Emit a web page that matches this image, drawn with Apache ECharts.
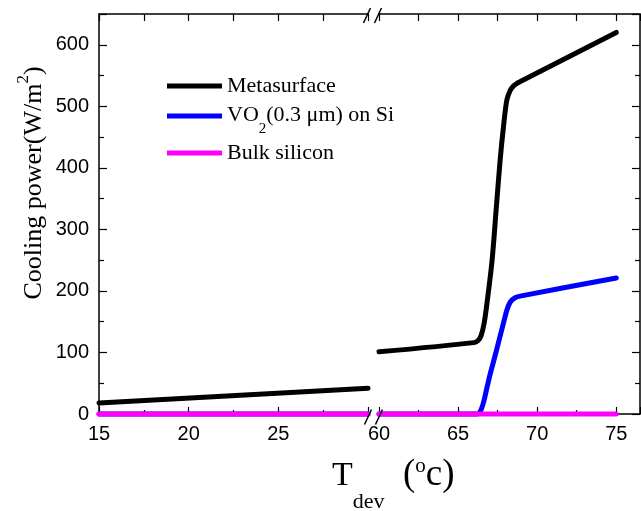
<!DOCTYPE html>
<html><head><meta charset="utf-8">
<script src="https://cdn.jsdelivr.net/npm/echarts@6/dist/echarts.min.js"></script>
<style>html,body{margin:0;padding:0;background:#fff}#c{width:641px;height:511px}</style>
</head><body><div id="c"></div>
<script>
// ---- data ----
const leftRange = [15, 30];
const rightRange = [60, 76.5];
const yRange = [0, 650];
const xTickLabelsLeft = [15, 20, 25];
const xTickLabelsRight = [60, 65, 70, 75];
const yTickLabels = [0, 100, 200, 300, 400, 500, 600];

const seriesNames = ['Metasurface', 'VO2(0.3 μm) on Si', 'Bulk silicon'];

const metaLeftT = [15, 30];
const metaLeftP = [18, 42];
const metaRightT = [60, 66, 66.25, 66.45, 66.65, 66.85, 67.15, 67.4, 67.66, 67.87, 68.08, 68.3, 68.5, 68.7, 69, 75];
const metaRightP = [101, 116, 119, 127, 148, 185, 250, 330, 413, 467, 510, 526, 533, 537, 541, 620];

const vo2LeftT = [15, 30];
const vo2LeftP = [0, 0];
const vo2RightT = [60, 66.2, 66.4, 66.6, 66.8, 67.0, 67.3, 67.6, 67.9, 68.1, 68.3, 68.6, 69, 75];
const vo2RightP = [0, 0, 4, 18, 40, 62, 91, 121, 151, 170, 182, 189, 192, 221];

const bulkLeftT = [15, 30];
const bulkLeftP = [0, 0];
const bulkRightT = [60, 75];
const bulkRightP = [0, 0];

// ---- layout ----
const G0 = {left: 99, top: 14, width: 269, height: 400};
const G1 = {left: 379, top: 14, width: 261, height: 400};
const serif = 'Liberation Serif';
const sans = 'Liberation Sans';
const colors = ['#000000', '#0000ff', '#ff00ff'];

const zip = (a, b) => a.map((v, i) => [v, b[i]]);

function xAxisBase(grid, range, pos, interval, labels) {
  return {
    type: 'value', gridIndex: grid, position: pos, min: range[0], max: range[1], interval: interval,
    axisLine: {show: true, lineStyle: {color: '#000', width: 1.5}},
    axisTick: {show: true, inside: true, length: 7, lineStyle: {color: '#000', width: 1.2}},
    minorTick: {show: pos === 'bottom', splitNumber: 2, length: 4, lineStyle: {color: '#000', width: 1.2}},
    splitLine: {show: false},
    axisLabel: labels ? {
      show: true, margin: 10, fontFamily: sans, fontSize: 20, color: '#000',
      showMaxLabel: false,
      formatter: v => labels.includes(v) ? String(v) : ''
    } : {show: false}
  };
}
function yAxisBase(grid, pos, labels) {
  return {
    type: 'value', gridIndex: grid, position: pos, min: yRange[0], max: yRange[1], interval: 100,
    axisLine: {show: true, lineStyle: {color: '#000', width: 1.5}},
    axisTick: {show: true, inside: true, length: 8, lineStyle: {color: '#000', width: 1.2}},
    minorTick: {show: true, splitNumber: 2, length: 5, lineStyle: {color: '#000', width: 1.2}},
    splitLine: {show: false},
    axisLabel: labels ? {
      show: true, margin: 10, fontFamily: sans, fontSize: 20, color: '#000',
      showMaxLabel: false,
      formatter: v => labels.includes(v) ? String(v) : ''
    } : {show: false}
  };
}

const yAxis0 = yAxisBase(0, 'left', yTickLabels);
yAxis0.name = '{a|Cooling power(W/m}{b|2}{a|)}';
yAxis0.nameLocation = 'middle';
yAxis0.nameGap = 54;
yAxis0.nameTextStyle = {
  fontFamily: serif, fontSize: 26, color: '#000', padding: [0, 0, 0, 62],
  rich: {
    a: {fontFamily: serif, fontSize: 26, color: '#000', lineHeight: 30, verticalAlign: 'top', padding: [6, 0, 0, 0]},
    b: {fontFamily: serif, fontSize: 17, color: '#000', lineHeight: 17, verticalAlign: 'top'}
  }
};

function line(name, xi, yi, data, color) {
  return {
    name: name, type: 'line', xAxisIndex: xi, yAxisIndex: yi, data: data,
    showSymbol: false, symbol: 'none', smooth: 0.3, clip: false,
    lineStyle: {color: color, width: 5, cap: 'round', join: 'round'},
    itemStyle: {color: color}, emphasis: {disabled: true}, animation: false
  };
}

function legendFor(name, top) {
  return {
    data: [name], left: 167, top: top, padding: 0, itemWidth: 55, itemHeight: 14,
    selectedMode: false, icon: 'path://M0,0 L55,0 L55,5 L0,5 Z',
    textStyle: {
      fontFamily: serif, fontSize: 22, color: '#000',
      rich: {
        n: {fontFamily: serif, fontSize: 22, color: '#000', lineHeight: 24, verticalAlign: 'top'},
        s: {fontFamily: serif, fontSize: 15, color: '#000', lineHeight: 15, verticalAlign: 'top', padding: [18, 0, 0, 0]}
      }
    },
    formatter: n => n === seriesNames[1] ? '{n|VO}{s|2}{n|(0.3 μm) on Si}' : n
  };
}

function slash(cx, cy) {
  return {type: 'line', silent: true, z: 100,
    shape: {x1: cx - 3.5, y1: cy + 7.5, x2: cx + 3.5, y2: cy - 7.5},
    style: {stroke: '#000', lineWidth: 1.5}};
}

const chart = echarts.init(document.getElementById('c'), null, {renderer: 'canvas'});
const yTop = G0.top, yBot = G0.top + G0.height;
chart.setOption({
  animation: false,
  backgroundColor: '#fff',
  grid: [
    Object.assign({containLabel: false}, G0),
    Object.assign({containLabel: false}, G1)
  ],
  xAxis: [
    xAxisBase(0, leftRange, 'bottom', 5, xTickLabelsLeft),
    xAxisBase(0, leftRange, 'top', 2.5, null),
    xAxisBase(1, rightRange, 'bottom', 5, xTickLabelsRight),
    xAxisBase(1, rightRange, 'top', 2.5, null)
  ],
  yAxis: [
    yAxis0,
    yAxisBase(1, 'right', null)
  ],
  legend: [
    legendFor(seriesNames[0], 75),
    legendFor(seriesNames[1], 104),
    legendFor(seriesNames[2], 142)
  ],
  series: [
    line(seriesNames[0], 0, 0, zip(metaLeftT, metaLeftP), colors[0]),
    line(seriesNames[0], 2, 1, zip(metaRightT, metaRightP), colors[0]),
    line(seriesNames[1], 0, 0, zip(vo2LeftT, vo2LeftP), colors[1]),
    line(seriesNames[1], 2, 1, zip(vo2RightT, vo2RightP), colors[1]),
    line(seriesNames[2], 0, 0, zip(bulkLeftT, bulkLeftP), colors[2]),
    line(seriesNames[2], 2, 1, zip(bulkRightT, bulkRightP), colors[2])
  ],
  graphic: [
    slash(367, yTop + 1.5), slash(378, yTop + 1.5),
    slash(368, yBot + 3), slash(379, yBot + 3),
    {type: 'text', left: 332, top: 455, silent: true,
      style: {
        text: '{t|T}{s|dev}{p|  (}{o|o}{p|c)}',
        rich: {
          t: {fontFamily: serif, fontSize: 34, fill: '#000', lineHeight: 34, verticalAlign: 'top', padding: [4, 0, 0, 0]},
          p: {fontFamily: serif, fontSize: 37, fill: '#000', lineHeight: 37, verticalAlign: 'top', padding: [2, 0, 0, 0]},
          s: {fontFamily: serif, fontSize: 22, fill: '#000', lineHeight: 22, verticalAlign: 'top', padding: [36, 0, 0, 0]},
          o: {fontFamily: serif, fontSize: 21, fill: '#000', lineHeight: 21, verticalAlign: 'top', padding: [1, 0, 0, 0]}
        }
      }}
  ]
});
</script></body></html>
